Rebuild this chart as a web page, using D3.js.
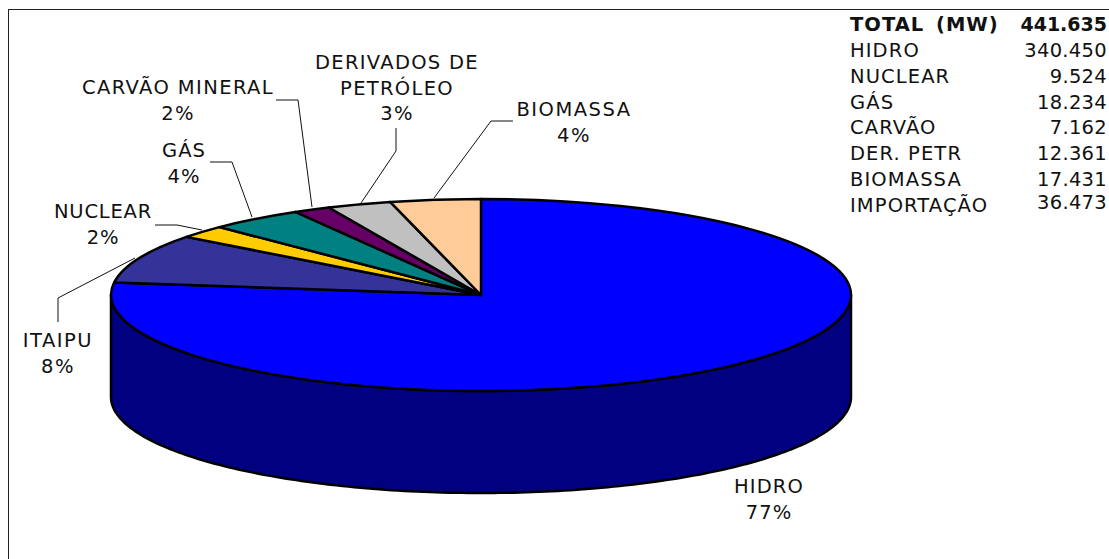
<!DOCTYPE html>
<html><head><meta charset="utf-8">
<script src="https://cdn.jsdelivr.net/npm/d3@7/dist/d3.min.js"></script>
<style>
html,body{margin:0;padding:0;background:#fff;overflow:hidden}
text{font-family:"DejaVu Sans",Verdana,sans-serif;fill:#111}
</style></head><body><svg id="c" width="1109" height="559"></svg>
<script>
const categories=["HIDRO","ITAIPU","NUCLEAR","GÁS","CARVÃO MINERAL","DERIVADOS DE PETRÓLEO","BIOMASSA"];
const values=[340450,36473,9524,18234,7162,12361,17431];
const colors=["#0000FF","#333399","#FFCC00","#008080","#660066","#C0C0C0","#FFCC99"];
const sideColor="#000080";
const tableNames=["HIDRO","NUCLEAR","GÁS","CARVÃO","DER. PETR","BIOMASSA","IMPORTAÇÃO"];
const tableValues=["340.450","9.524","18.234","7.162","12.361","17.431","36.473"];
const totalLabel=["TOTAL (MW)","441.635"];
const labelLines=[["HIDRO","77%"],["ITAIPU","8%"],["NUCLEAR","2%"],["GÁS","4%"],["CARVÃO MINERAL","2%"],["DERIVADOS DE","PETRÓLEO","3%"],["BIOMASSA","4%"]];
const labelPos=[[769,493],[58,347],[103,218],[184,157],[178,94],[397,69],[574,116]];
const labelSpacing=[1.1,1.5,0.8,1.1,1.4,1.3,1.5];
const leaders=[null,[[58,322],[58,298],[135,258]],[[155,225],[177,225],[202,230]],[[210,162],[232,162],[252,217]],[[276,100],[298,100],[312,207]],[[396,128],[396,151],[361,203]],[[513,121],[491,121],[434,198]]];

const svg=d3.select("#c");
const cx=481,cy=295,rx=370,ry=96,depth=102;
svg.append("rect").attr("x",8.5).attr("y",9.5).attr("width",1200).attr("height",700)
  .attr("fill","#fff").attr("stroke","#222").attr("stroke-width",1);

const arcs=d3.pie().sort(null).value(d=>d)(values);
const arc=d3.arc().innerRadius(0).outerRadius(rx);
const sy=ry/rx;

const theta=d3.scaleLinear().domain([0,180]).range([Math.PI/2,3*Math.PI/2]);
const lower=d3.range(0,181).map(theta);
const pt=(a,dy)=>[cx+rx*Math.sin(a),cy-ry*Math.cos(a)+dy];
const wall=lower.map(a=>pt(a,depth)).concat(lower.slice().reverse().map(a=>pt(a,0)));
svg.append("path").attr("d",d3.line()(wall)+"Z").attr("fill",sideColor)
  .attr("stroke","#000").attr("stroke-width",2.5);

svg.append("g").attr("transform",`translate(${cx},${cy}) scale(1,${sy})`)
  .selectAll("path").data(arcs).join("path")
  .attr("d",arc).attr("fill",(d,i)=>colors[i]).attr("stroke","#000")
  .attr("stroke-width",2.5).attr("vector-effect","non-scaling-stroke")
  .attr("stroke-linejoin","round");

svg.append("g").selectAll("path").data(leaders.filter(Boolean)).join("path")
  .attr("d",d3.line()).attr("fill","none").attr("stroke","#111").attr("stroke-width",1);

const fs=19.5,lh=25.5;
const lab=svg.append("g").selectAll("text").data(labelLines).join("text")
  .attr("text-anchor","middle").attr("font-size",fs)
  .attr("x",(d,i)=>labelPos[i][0]).attr("y",(d,i)=>labelPos[i][1])
  .attr("letter-spacing",(d,i)=>labelSpacing[i]);
lab.selectAll("tspan").data((d,i)=>d.map(t=>({t,i}))).join("tspan")
  .attr("x",d=>labelPos[d.i][0]).attr("dy",(d,j)=>j?lh:0).text(d=>d.t);

const rowY=d3.scalePoint().domain(d3.range(tableNames.length+1)).range([31,212]);
const tbl=svg.append("g").attr("font-size",19.5);
const xL=850,xR=1107;
tbl.append("text").attr("x",xL).attr("y",rowY(0)).attr("font-weight","bold").attr("letter-spacing",1).attr("word-spacing",4).text(totalLabel[0]);
tbl.append("text").attr("x",xR).attr("y",rowY(0)).attr("font-weight","bold").attr("text-anchor","end").attr("font-size",19).text(totalLabel[1]);
tbl.selectAll(".n").data(tableNames).join("text").attr("class","n").attr("x",xL).attr("y",(d,i)=>rowY(i+1)).attr("letter-spacing",1.1).text(d=>d);
tbl.selectAll(".v").data(tableValues).join("text").attr("class","v").attr("x",xR).attr("y",(d,i)=>rowY(i+1)-(i===6?3:0)).attr("text-anchor","end").attr("letter-spacing",0.3).text(d=>d);
</script></body></html>
